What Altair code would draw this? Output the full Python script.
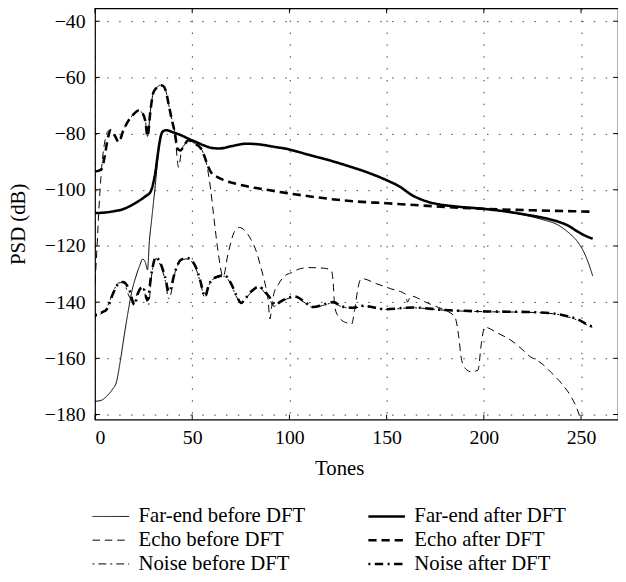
import altair as alt
import pandas as pd

# ---------------- data ----------------
x_ticks = [0, 50, 100, 150, 200, 250]
y_ticks = [-40, -60, -80, -100, -120, -140, -160, -180]

# legend order (filled column by column)
series_order = ["Far-end before DFT", "Echo before DFT", "Noise before DFT",
                "Far-end after DFT", "Echo after DFT", "Noise after DFT"]

far_after_x = [0, 5, 10, 14, 18, 22, 26, 28.5, 30, 31, 32, 33, 34, 35, 36.5, 40, 44, 48, 52, 56,
               60, 64, 70, 78, 85, 92, 99, 106, 114, 122, 130, 140, 150, 157, 163, 170, 177, 185,
               200, 210, 222, 230, 238, 244, 248, 252, 256]
far_after_y = [-108.3, -108.1, -107.6, -107, -105.8, -104.2, -102.3, -100.8, -97.5, -94, -89, -84,
               -80.5, -79.2, -78.8, -79.5, -80.5, -81.8, -83, -84.2, -85.1, -85.3, -84.5, -83.6,
               -83.9, -84.7, -85.5, -86.8, -88.3, -89.8, -91.5, -93.8, -96.6, -99, -101.9, -104,
               -105.2, -105.9, -106.8, -107.6, -108.9, -109.9, -111.3, -113, -114.8, -116.3, -117.4]

far_before_x = [0, 3, 6, 9, 11, 13, 15, 17, 19, 21, 23, 24.5, 26, 27, 28, 29, 30, 31, 32, 33, 34,
                35, 36.5, 40, 44, 48, 52, 56, 60, 64, 70, 78, 85, 92, 99, 106, 114, 122, 130, 140,
                150, 157, 163, 170, 177, 185, 200, 210, 222, 230, 238, 244, 248, 252, 254, 256]
far_before_y = [-175.3, -175, -173.5, -171, -168.5, -161, -152, -143.5, -136, -131, -127, -124.7,
                -126, -128.5, -118, -111.5, -105, -98.5, -91, -84.5, -80.3, -79.2, -78.8, -79.5,
                -80.5, -81.8, -83, -84.2, -85.1, -85.3, -84.5, -83.6, -83.9, -84.7, -85.5, -86.8,
                -88.3, -89.8, -91.5, -93.8, -96.6, -99, -101.9, -104, -105.2, -105.9, -106.8,
                -107.7, -109.2, -110.6, -112.5, -115.5, -118.3, -123, -126.5, -130.7]

echo_after_x = [0, 2, 3.5, 5, 6.5, 8, 10, 12.2, 14.5, 17.3, 20, 22.4, 24.5, 26, 27, 28.5, 30, 32,
                33.5, 35, 36.5, 38, 39.5, 41, 42.5, 44, 46, 48, 51, 54.5, 56.5, 58, 60, 63, 66, 72,
                82, 90, 99, 110, 120, 133, 150, 175, 200, 225, 256]
echo_after_y = [-93.5, -93.2, -92.5, -88, -82, -78.8, -80.5, -83, -79, -75.3, -73, -71.8, -72.8,
                -76, -81, -72, -65.4, -63.5, -62.8, -63, -65, -70, -75, -79.5, -85.5, -86, -84,
                -82.4, -83.4, -85.3, -88.5, -91.5, -94.1, -95.5, -96.5, -97.8, -99.3, -100.2,
                -101.2, -102.3, -103.2, -104.1, -104.8, -105.9, -106.8, -107.3, -107.8]

echo_before_x = [0, 1, 2, 3, 4, 5, 6, 7, 8, 10, 12.2, 14.5, 17.3, 20, 22.4, 24.5, 26, 27, 28.5, 30,
                 32, 33.5, 35, 36.5, 38, 39.5, 41, 43, 44.5, 46, 48, 51, 54.5, 56.5, 58, 59.5, 61,
                 63.3, 65.9, 68.4, 71.8, 74.3, 77, 80.2, 83, 85.3, 87.8, 89, 90, 91, 92, 94.5, 97,
                 101, 105.6, 110, 117.4, 121.6, 122.5, 123.3, 125, 127, 130, 132, 133.5, 135.3,
                 137, 145, 152, 159.8, 160.7, 162.4, 170, 176.7, 182, 185.2, 186.9, 188.6, 191,
                 193.7, 197, 198.7, 200.4, 207, 214, 220, 224, 226, 230, 234.3, 240, 244.4, 247,
                 249.5, 250.5]
echo_before_y = [-133, -121, -107, -96, -88, -83, -80, -79, -78.8, -80.5, -83, -79, -75.3, -73,
                 -71.8, -72.8, -76, -81, -72, -65.4, -63.5, -62.8, -63, -65, -70, -75, -79.5, -92,
                 -86, -84, -82.4, -83.4, -85.3, -88.5, -93, -100, -109, -122, -131, -122.9,
                 -114.8, -113.4, -114.5, -117.7, -122, -127.6, -134.5, -139, -146, -141, -137,
                 -133.5, -131, -129.5, -128.1, -127.7, -127.9, -128.7, -133, -141.5, -145, -146.5,
                 -147.5, -147.8, -143, -134.8, -131.6, -133.5, -135.2, -137.2, -140, -137.8, -140,
                 -141.9, -143.5, -145.4, -151.3, -160.7, -164, -164.8, -164.2, -154.8, -148.9,
                 -151, -153.6, -157, -159.5, -160.2, -162, -164.8, -169, -173.1, -176.5, -181.2,
                 -184]

noise_after_x = [0, 1.7, 4, 5.9, 9.3, 12, 14.4, 17.7, 20.3, 22, 24.5, 27, 29, 31.3, 33.8, 36, 38,
                 41.4, 44, 47.3, 51.5, 54, 56.6, 58.5, 60.8, 66.7, 70, 73, 75.2, 77, 80.2, 84.5,
                 87, 89.5, 92.9, 95, 98.8, 103, 107, 112.3, 117, 122.5, 127, 132.6, 137.8, 149.7,
                 163, 180, 200.4, 222.4, 237.6, 243, 247.8, 254.6, 256]
noise_after_y = [-144.5, -144.4, -143.5, -142.7, -136.9, -133.5, -132.8, -135.7, -141, -137,
                 -134.5, -139.2, -130, -124, -126.4, -131, -136.3, -128.7, -125, -124.3, -127,
                 -132, -138, -134, -131.6, -130.5, -133.4, -138, -140.3, -139, -136.3, -134.5,
                 -136, -138, -141, -140, -138.6, -138, -139.5, -141.7, -141, -140, -141.5, -142,
                 -141.3, -142.5, -141.9, -142.8, -143.3, -143.5, -144.2, -145, -146, -148.4, -148.8]

noise_before_x = [0, 1.7, 4, 5.9, 9.3, 12, 14.4, 18, 20.3, 22, 24.5, 27.5, 29, 31.3, 33.8, 36,
                  38, 41.4, 44, 47.3, 51.5, 54, 56.6, 58.5, 60.8, 66.7, 70, 73, 75.2, 77, 80.2,
                  84.5, 87, 89.5, 92, 95, 98.8, 103, 107, 112.3, 117, 122.5, 127, 132.6, 137.8,
                  149.7, 163, 180, 200.4, 222.4, 237.6, 243, 247.8, 254.6, 256]
noise_before_y = [-145, -144.8, -143.5, -142.2, -136.5, -133.2, -133, -138.5, -140, -136.5,
                  -134.8, -141, -131, -124.5, -127, -132, -138.8, -129, -125.3, -124.6, -127.4,
                  -132.5, -138.5, -134.2, -131.8, -130.8, -133.8, -138.4, -140.6, -139.2, -136.6,
                  -134.8, -136.4, -138.5, -141.5, -140.2, -138.8, -138.3, -139.8, -141.9, -141.2,
                  -140.3, -141.7, -142.2, -141.5, -142.6, -142, -142.9, -143.4, -143.6, -144.3,
                  -145.2, -146.3, -148.6, -149]

# ---------------- table ----------------
rows = []
for name, xs, ys in [
    ("Far-end before DFT", far_before_x, far_before_y),
    ("Far-end after DFT", far_after_x, far_after_y),
    ("Echo before DFT", echo_before_x, echo_before_y),
    ("Echo after DFT", echo_after_x, echo_after_y),
    ("Noise before DFT", noise_before_x, noise_before_y),
    ("Noise after DFT", noise_after_x, noise_after_y),
]:
    for i, (x, y) in enumerate(zip(xs, ys)):
        rows.append({"series": name, "tone": x, "psd": y, "idx": i})
df = pd.DataFrame(rows)

xt = pd.DataFrame({"tone": x_ticks})
yt = pd.DataFrame({"psd": y_ticks})

W, H = 529, 416
FONT = "Liberation Serif"

# styles in the same order as series_order
dash_range = [[1, 0], [7.5, 5], [2, 4, 8, 4], [1, 0], [8.3, 5], [2, 4.5, 8.5, 4.5]]
width_range = [1, 1, 1, 2.6, 2.6, 2.6]

xscale = alt.Scale(domain=[0, 269], nice=False, zero=False)
yscale = alt.Scale(domain=[-181.8, -35.4], nice=False, zero=False)

lines = alt.Chart(df).mark_line(color="black", clip=True, interpolate="monotone").encode(
    x=alt.X("tone:Q", scale=xscale,
            axis=alt.Axis(values=x_ticks, title="Tones", grid=True, domain=False, ticks=False,
                          labelPadding=8, titlePadding=11, titleX=247, format="d")),
    y=alt.Y("psd:Q", scale=yscale,
            axis=alt.Axis(values=y_ticks, title="PSD (dB)", grid=True, domain=False, ticks=False,
                          labelPadding=10, titlePadding=16, titleY=218)),
    strokeDash=alt.StrokeDash("series:N", sort=series_order,
                              scale=alt.Scale(type="ordinal", domain=series_order, range=dash_range),
                              legend=alt.Legend(title=None)),
    strokeWidth=alt.StrokeWidth("series:N", sort=series_order,
                                scale=alt.Scale(type="ordinal", domain=series_order, range=width_range),
                                legend=alt.Legend(title=None)),
    order=alt.Order("idx:Q"),
)

left_ticks = alt.Chart(yt).mark_rule(color="black").encode(
    y=alt.Y("psd:Q", scale=yscale), x=alt.value(0), x2=alt.value(5))
right_ticks = alt.Chart(yt).mark_rule(color="black").encode(
    y=alt.Y("psd:Q", scale=yscale), x=alt.value(W - 5), x2=alt.value(W))
bottom_ticks = alt.Chart(xt).mark_rule(color="black").encode(
    x=alt.X("tone:Q", scale=xscale), y=alt.value(H - 5), y2=alt.value(H))
top_ticks = alt.Chart(xt).mark_rule(color="black").encode(
    x=alt.X("tone:Q", scale=xscale), y=alt.value(0), y2=alt.value(5))

chart = alt.layer(lines, left_ticks, right_ticks, bottom_ticks, top_ticks).properties(
    width=W, height=H,
    autosize=alt.AutoSizeParams(type="none"),
    padding={"left": 88, "top": -3, "right": 0, "bottom": 161},
).configure_view(
    stroke="black", strokeWidth=1.2
).configure_axis(
    labelFont=FONT, labelFontSize=20, labelColor="black",
    titleFont=FONT, titleFontSize=21, titleFontWeight="normal", titleColor="black",
    gridColor="black", gridOpacity=0.75, gridWidth=1, gridDash=[1.5, 10.5],
).configure_legend(
    orient="none", legendX=-4, legendY=502, columns=2, columnPadding=62, rowPadding=0,
    clipHeight=24, padding=0,
    symbolType="stroke", symbolSize=1369, symbolStrokeColor="black", symbolOpacity=1,
    labelFont=FONT, labelFontSize=21, labelColor="black", labelOffset=8, labelLimit=400,
)

chart.save("out.html", embed_options={"renderer": "svg", "actions": False})
